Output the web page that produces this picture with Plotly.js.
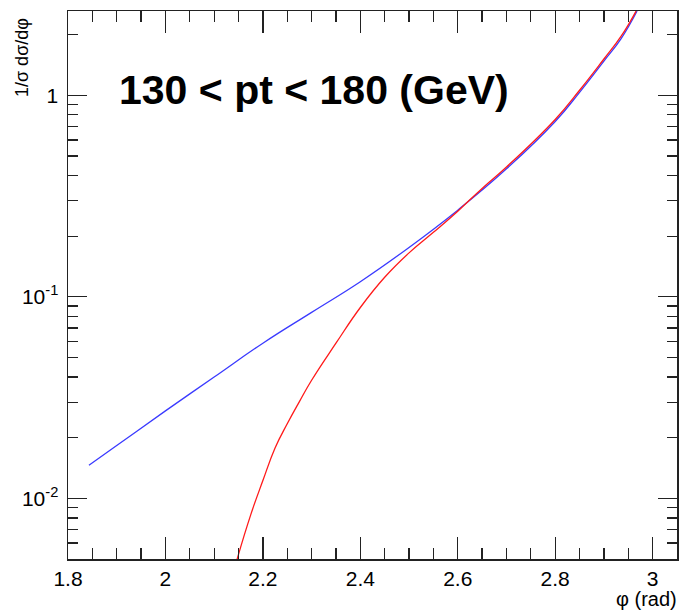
<!DOCTYPE html>
<html>
<head>
<meta charset="utf-8">
<script src="https://cdn.plot.ly/plotly-3.0.1.min.js"></script>
<style>html,body{margin:0;padding:0;background:#fff;}#chart{width:681px;height:610px;}</style>
</head>
<body>
<div id="chart"></div>
<script>
// Blue curve (phi in rad, 1/sigma dsigma/dphi)
var blueX = [1.843, 1.9, 2.0, 2.1, 2.2, 2.3, 2.4, 2.5, 2.6, 2.7, 2.8, 2.85, 2.9, 2.935, 2.968];
var blueY = [0.01459, 0.01828, 0.02716, 0.03999, 0.05888, 0.08375, 0.1189, 0.1758, 0.2692, 0.4315, 0.7413, 1.035, 1.479, 1.905, 2.618];
// Red curve
var redX = [2.147, 2.175, 2.2, 2.225, 2.25, 2.275, 2.3, 2.35, 2.4, 2.45, 2.5, 2.55, 2.6, 2.65, 2.7, 2.8, 2.85, 2.9, 2.935, 2.966];
var redY = [0.00498, 0.00828, 0.01225, 0.01778, 0.02344, 0.03020, 0.03855, 0.05888, 0.08851, 0.1250, 0.1652, 0.2089, 0.2661, 0.3451, 0.4406, 0.7586, 1.059, 1.514, 1.959, 2.618];
// Tick labels
var xTickVals = [1.8, 2, 2.2, 2.4, 2.6, 2.8, 3];
var xTickText = ["1.8", "2", "2.2", "2.4", "2.6", "2.8", "3"];
var yTickVals = [0.01, 0.1, 1];
var yTickText = ["10<sup>-2</sup>", "10<sup>-1</sup>", "1"];
var titleText = "130 < pt < 180 (GeV)";
var xTitle = "φ (rad)";
var yTitle = "1/σ dσ/dφ";

var W = 681, H = 610, L = 68, R = 4, T = 11, B = 51;
function px(x) { return (x - L) / (W - L - R); }
function py(y) { return (H - B - y) / (H - T - B); }

var yMinor = [];
[0.001, 0.01, 0.1, 1].forEach(function (d) { for (var k = 2; k <= 9; k++) yMinor.push(+(k * d).toPrecision(3)); });

var fontFam = "Liberation Sans, Arial, sans-serif";
var traces = [
  { x: blueX, y: blueY, type: "scatter", mode: "lines", line: { color: "#3a3aff", width: 1.3, shape: "spline", smoothing: 1.3 }, hoverinfo: "none" },
  { x: redX, y: redY, type: "scatter", mode: "lines", line: { color: "#ff1a1a", width: 1.3, shape: "spline", smoothing: 1.3 }, hoverinfo: "none" }
];
var axisCommon = {
  showline: true, linecolor: "#222", linewidth: 1.5, mirror: "ticks",
  ticks: "inside", tickcolor: "#222", tickwidth: 1.3,
  showgrid: false, zeroline: false,
  tickfont: { family: fontFam, size: 21, color: "#000" }
};
var layout = {
  width: W, height: H, autosize: false,
  margin: { l: L, r: R, t: T, b: B, pad: 0 },
  paper_bgcolor: "#fff", plot_bgcolor: "#fff",
  showlegend: false,
  xaxis: Object.assign({}, axisCommon, {
    range: [1.8, 3.05], tickmode: "array", tickvals: xTickVals, ticktext: xTickText, ticklen: 22,
    minor: { dtick: 0.05, tick0: 1.8, ticks: "inside", ticklen: 11, tickcolor: "#222", tickwidth: 1.3, showgrid: false },
    ticklabelstandoff: 0
  }),
  yaxis: Object.assign({}, axisCommon, {
    type: "log", range: [Math.log10(0.005), Math.log10(2.62)],
    tickmode: "array", tickvals: yTickVals, ticktext: yTickText, ticklen: 19,
    minor: { tickmode: "array", tickvals: yMinor, ticks: "inside", ticklen: 10, tickcolor: "#222", tickwidth: 1.3, showgrid: false },
    ticklabelstandoff: 4
  }),
  annotations: [
    { text: "<b>" + titleText.replace(/</g, "&lt;") + "</b>", xref: "paper", yref: "paper", x: px(313.5), y: py(90), xanchor: "center", yanchor: "middle", showarrow: false, font: { family: fontFam, size: 41, color: "#000" } },
    { text: yTitle, xref: "paper", yref: "paper", x: px(22), y: py(58), xanchor: "center", yanchor: "middle", textangle: -90, showarrow: false, font: { family: fontFam, size: 18, color: "#000" } },
    { text: xTitle, xref: "paper", yref: "paper", x: px(679), y: py(599), xanchor: "right", yanchor: "middle", showarrow: false, font: { family: fontFam, size: 20, color: "#000" } }
  ]
};
Plotly.newPlot("chart", traces, layout, { staticPlot: true, displayModeBar: false });
</script>
</body>
</html>
